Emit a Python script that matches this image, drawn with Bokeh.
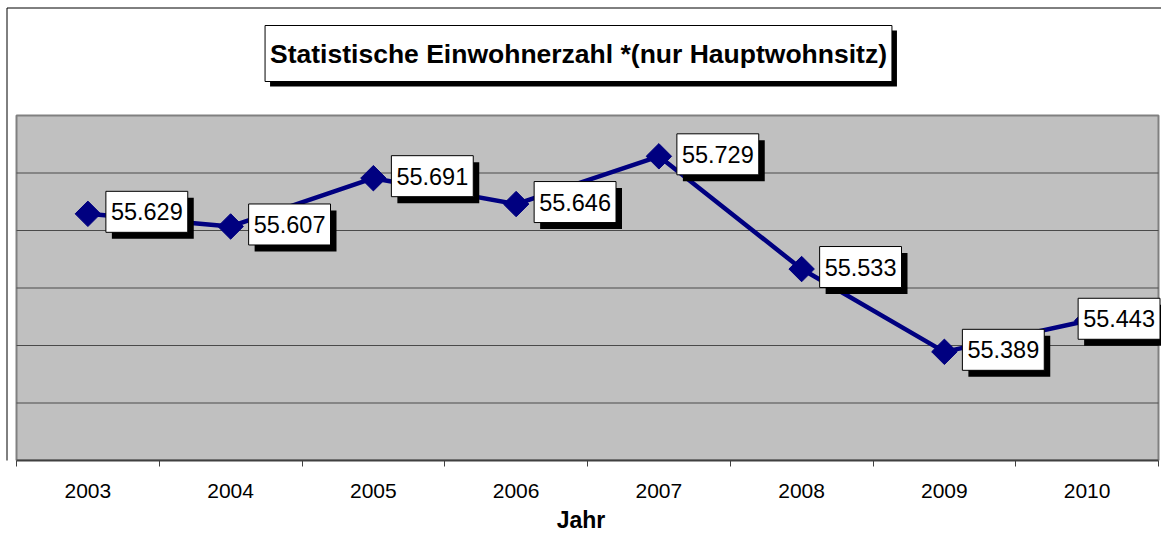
import math
from bokeh.plotting import figure
from bokeh.models import ColumnDataSource, Range1d, FixedTicker, LinearAxis, Label, BoxAnnotation
from bokeh.core.properties import value
from bokeh.embed import file_html
from bokeh.resources import INLINE

# ---- data ----
years = [2003, 2004, 2005, 2006, 2007, 2008, 2009, 2010]
einwohner = [55629, 55607, 55691, 55646, 55729, 55533, 55389, 55443]
y_ticks = [55200, 55300, 55400, 55500, 55600, 55700, 55800]
title_text = "Statistische Einwohnerzahl *(nur Hauptwohnsitz)"
x_title = "Jahr"

# ---- layout / styling ----
FONT = "Liberation Sans"
W, H = 1161, 546
FL, FR, FT, FB = 16, 1158, 115, 460   # plot-area edges in canvas pixels

labels = [f"{v:,}".replace(",", ".") for v in einwohner]
label_dx = [18] * (len(years) - 1) + [-9]
shadow_dx = [d + 6 for d in label_dx]
src = ColumnDataSource(dict(x=years, y=einwohner, label=labels, dx=label_dx, sdx=shadow_dx))

x0, x1 = years[0] - 0.5, years[-1] + 0.5
y0, y1 = y_ticks[0], y_ticks[-1]
PX = (FR - FL) / (x1 - x0)          # pixels per year
PY = (FB - FT) / (y1 - y0)          # pixels per inhabitant
xs, xe = x0 - FL / PX, x1 + (W - FR) / PX
ys, ye = y0, y1 + FT / PY

def cx(px):   # canvas x -> data x
    return xs + px / PX

def cy(py):   # canvas y -> data y
    return ye - py / PY

p = figure(width=W, height=H, output_backend="svg", toolbar_location=None,
           x_range=Range1d(xs, xe), y_range=Range1d(ys, ye),
           x_axis_type=None, y_axis_type=None,
           min_border_left=0, min_border_right=0, min_border_top=0,
           min_border_bottom=H - FB)
p.background_fill_color = "white"
p.border_fill_color = "white"
p.outline_line_color = None

# plot area
p.quad(left=[x0], right=[x1], bottom=[y0], top=[y1],
       fill_color="#c0c0c0", line_color="#808080", line_width=2)
# horizontal grid lines (inner ones)
inner = y_ticks[1:-1]
p.segment(x0=[x0] * len(inner), x1=[x1] * len(inner), y0=inner, y1=inner,
          line_color="#4a4a4a", line_width=1)

# outer chart border (right/bottom lie outside the window)
p.add_layout(BoxAnnotation(left=cx(6.5), right=xe + 1, top=cy(7.5), bottom=ys - 100,
                           fill_color=None, fill_alpha=0, line_color="black",
                           line_alpha=1, line_width=1))

boundaries = [y - 0.5 for y in years] + [years[-1] + 0.5]
xaxis = LinearAxis(ticker=FixedTicker(ticks=years, minor_ticks=boundaries),
                   axis_label=x_title, bounds=(x0, x1))
xaxis.axis_line_color = "#404040"
xaxis.axis_line_width = 2
xaxis.major_tick_line_color = None
xaxis.major_tick_out = 0
xaxis.major_tick_in = 0
xaxis.minor_tick_line_color = "#404040"
xaxis.minor_tick_out = 6
xaxis.minor_tick_in = 0
xaxis.major_label_text_font = FONT
xaxis.major_label_text_font_size = "21px"
xaxis.major_label_text_color = "black"
xaxis.major_label_standoff = 17
xaxis.axis_label_text_font = FONT
xaxis.axis_label_text_font_size = "23px"
xaxis.axis_label_text_font_style = "bold"
xaxis.axis_label_text_color = "black"
xaxis.axis_label_standoff = 6
p.add_layout(xaxis, "below")

p.line("x", "y", source=src, line_color="#000080", line_width=4.5)
p.scatter("x", "y", source=src, marker="square", size=18, angle=math.pi / 4,
          fill_color="#000080", line_color="#000080")

common = dict(source=src, text="label", text_font=value(FONT), text_font_size="23.5px",
              text_align="left", text_baseline="middle", padding=dict(x=5, y=12))
p.text(x="x", y="y", x_offset="sdx", y_offset=4.5, text_color="black",
       background_fill_color="black", **common)
p.text(x="x", y="y", x_offset="dx", y_offset=-2, text_color="black",
       background_fill_color="white", border_line_color="black", border_line_width=1, **common)

# title box: centre at canvas (578, 53), shadow offset 5 px
tcx, tcy = 578, 53
tcommon = dict(text=title_text, text_font=FONT,
               text_font_size="26.5px", text_font_style="bold", text_align="center",
               text_baseline="middle", padding=dict(x=5, y=13))
p.add_layout(Label(x=cx(tcx + 5), y=cy(tcy + 5), text_color="black",
                   background_fill_color="black", **tcommon))
p.add_layout(Label(x=cx(tcx), y=cy(tcy), text_color="black", background_fill_color="white",
                   border_line_color="black", border_line_width=1, **tcommon))

open("out.html", "w").write(file_html(p, INLINE))
